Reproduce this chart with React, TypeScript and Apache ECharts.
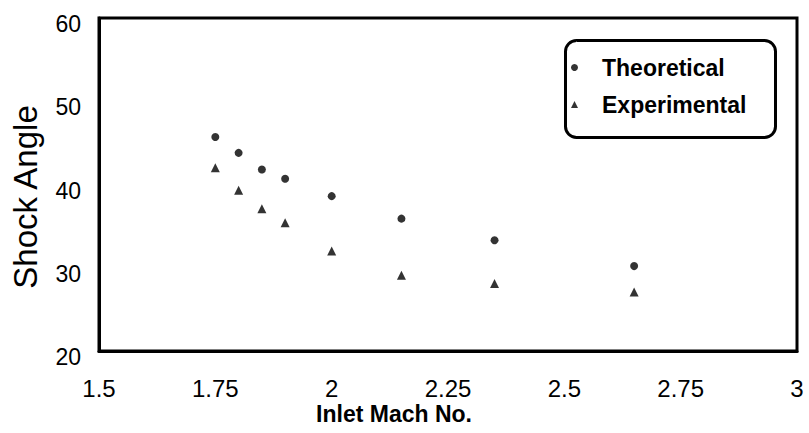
import React, { useEffect, useRef } from "react";
import * as echarts from "echarts";

const machNumbers = [1.75, 1.8, 1.85, 1.9, 2.0, 2.15, 2.35, 2.65];
const theoreticalAngles = [45.7, 43.8, 41.8, 40.7, 38.6, 35.9, 33.3, 30.2];
const experimentalAngles = [42.0, 39.3, 37.1, 35.4, 32.0, 29.1, 28.1, 27.1];
const seriesNames = ["Theoretical", "Experimental"];
const xAxisTitle = "Inlet Mach No.";
const yAxisTitle = "Shock Angle";

export default function App() {
  const ref = useRef<HTMLDivElement>(null);
  useEffect(() => {
    if (!ref.current) return;
    const chart = echarts.init(ref.current, null, { renderer: "svg" });
    const font = "Arial, 'Liberation Sans', Helvetica, sans-serif";
    chart.setOption({
      animation: false,
      backgroundColor: "#fff",
      grid: {
        left: 99,
        right: 12,
        top: 18,
        bottom: 82,
        show: true,
        borderColor: "#000",
        borderWidth: 3,
        backgroundColor: "transparent",
      },
      xAxis: {
        type: "value",
        min: 1.5,
        max: 3,
        interval: 0.25,
        axisLine: { show: true, lineStyle: { color: "#000", width: 3 } },
        axisTick: { show: false },
        splitLine: { show: false },
        axisLabel: {
          color: "#000",
          fontFamily: font,
          fontSize: 24,
          margin: 25,
          showMinLabel: true,
          showMaxLabel: true,
        },
      },
      yAxis: {
        type: "value",
        min: 20,
        max: 60,
        interval: 10,
        axisLine: { show: true, lineStyle: { color: "#000", width: 3 } },
        axisTick: { show: false },
        splitLine: { show: false },
        axisLabel: {
          color: "#000",
          fontFamily: font,
          fontSize: 23,
          margin: 18,
          verticalAlign: "top",
          lineHeight: 12,
        },
      },
      legend: {
        orient: "vertical",
        left: 571,
        top: 56,
        padding: 0,
        itemWidth: 7,
        itemHeight: 7,
        itemGap: 14,
        data: seriesNames,
        textStyle: {
          color: "#000",
          fontFamily: font,
          fontSize: 23,
          fontWeight: "bold",
          lineHeight: 23,
          padding: [0, 0, 0, 19],
        },
      },
      graphic: [
        {
          type: "rect",
          left: 563,
          top: 38,
          shape: { width: 210, height: 97, r: 11 },
          style: { fill: "none", stroke: "#000", lineWidth: 3 },
          silent: true,
        },
        {
          type: "text",
          x: 25,
          y: 197,
          rotation: Math.PI / 2,
          style: {
            text: yAxisTitle,
            fill: "#000",
            font: `33px ${font}`,
            align: "center",
            verticalAlign: "middle",
          },
        },
        {
          type: "text",
          x: 394,
          y: 414,
          style: {
            text: xAxisTitle,
            fill: "#000",
            font: `bold 23px ${font}`,
            align: "center",
            verticalAlign: "middle",
          },
        },
      ],
      series: [
        {
          name: seriesNames[0],
          type: "scatter",
          symbol: "circle",
          symbolSize: 8,
          itemStyle: { color: "#000" },
          data: machNumbers.map((m, i) => [m, theoreticalAngles[i]]),
        },
        {
          name: seriesNames[1],
          type: "scatter",
          symbol: "triangle",
          symbolSize: 9,
          itemStyle: { color: "#000" },
          data: machNumbers.map((m, i) => [m, experimentalAngles[i]]),
        },
      ],
    });
    return () => chart.dispose();
  }, []);
  return (
    <div
      ref={ref}
      style={{ position: "fixed", left: 0, top: 0, width: 809, height: 433 }}
    />
  );
}
